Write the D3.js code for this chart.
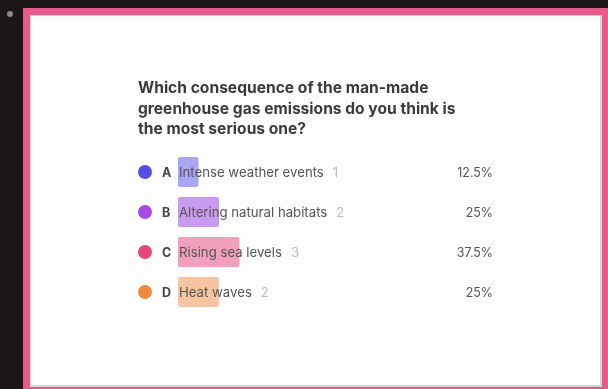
<!DOCTYPE html>
<html>
<head>
<meta charset="utf-8">
<script src="https://cdn.jsdelivr.net/npm/d3@7/dist/d3.min.js"></script>
<style>
html,body{margin:0;padding:0;background:#1b1919;}
svg{display:block;font-family:Inter,"Noto Sans",sans-serif;}
</style>
</head>
<body>
<svg id="chart" width="608" height="389"></svg>
<script>
const titleLines = ["Which consequence of the man-made", "greenhouse gas emissions do you think is", "the most serious one?"];
const letters = ["A", "B", "C", "D"];
const options = ["Intense weather events", "Altering natural habitats", "Rising sea levels", "Heat waves"];
const counts = [1, 2, 3, 2];
const percents = [12.5, 25, 37.5, 25];
const percentLabels = ["12.5%", "25%", "37.5%", "25%"];
const dotColors = ["#5650e2", "#a64ae6", "#e8457b", "#ec8b3f"];
const barColors = ["#a9a6f3", "#c89bf1", "#f0a0bd", "#f4c5a0"];

const svg = d3.select("#chart");
svg.append("defs").append("filter").attr("id", "soft")
  .attr("x", "-5%").attr("y", "-5%").attr("width", "110%").attr("height", "110%")
  .append("feGaussianBlur").attr("stdDeviation", 0.75);
const g = svg.append("g").attr("filter", "url(#soft)");

// frame
g.append("rect").attr("x", -10).attr("y", -10).attr("width", 630).attr("height", 410).attr("fill", "#1b1919");
g.append("circle").attr("cx", 10).attr("cy", 14).attr("r", 3).attr("fill", "#8a8888");
g.append("rect").attr("x", 23).attr("y", 8).attr("width", 600).attr("height", 400).attr("fill", "#e9588a");
g.append("rect").attr("x", 30).attr("y", 15).attr("width", 572).attr("height", 372).attr("fill", "#d4d4d4");
g.append("rect").attr("x", 31).attr("y", 16).attr("width", 569).attr("height", 369).attr("fill", "#fdfdfb");

// title
g.append("text").attr("x", 138).attr("y", 93)
  .attr("font-size", 15.6).attr("font-weight", 700).attr("fill", "#3a3a3a")
  .selectAll("tspan").data(titleLines).join("tspan")
  .attr("x", 138).attr("dy", (d, i) => i === 0 ? 0 : 20.5).text(d => d);

const y = d3.scaleBand().domain(letters).range([157, 307]).paddingInner(0.25);
const x = d3.scaleLinear().domain([0, 100]).range([0, 164]);
const barX0 = 178;

const rows = g.selectAll("g.row").data(letters).join("g").attr("class", "row")
  .attr("transform", d => `translate(0,${y(d)})`);
const bh = y.bandwidth();

rows.append("rect").attr("x", barX0).attr("y", 0)
  .attr("width", (d, i) => x(percents[i])).attr("height", bh)
  .attr("rx", 2).attr("fill", (d, i) => barColors[i]);

rows.append("circle").attr("cx", 145).attr("cy", bh / 2).attr("r", 7)
  .attr("fill", (d, i) => dotColors[i]);

rows.append("text").attr("x", 162).attr("y", bh / 2 + 4.5)
  .attr("font-size", 12.5).attr("font-weight", 700).attr("fill", "#444").text(d => d);

const lab = rows.append("text").attr("x", barX0 + 1).attr("y", bh / 2 + 4.5)
  .attr("font-size", 13.2).attr("fill", "#555");
lab.append("tspan").text((d, i) => options[i]);
lab.append("tspan").attr("dx", 9).attr("fill", "#bbb").text((d, i) => counts[i]);

rows.append("text").attr("x", 493).attr("y", bh / 2 + 4.5).attr("text-anchor", "end")
  .attr("font-size", 12.4).attr("fill", "#555").text((d, i) => percentLabels[i]);
</script>
</body>
</html>
